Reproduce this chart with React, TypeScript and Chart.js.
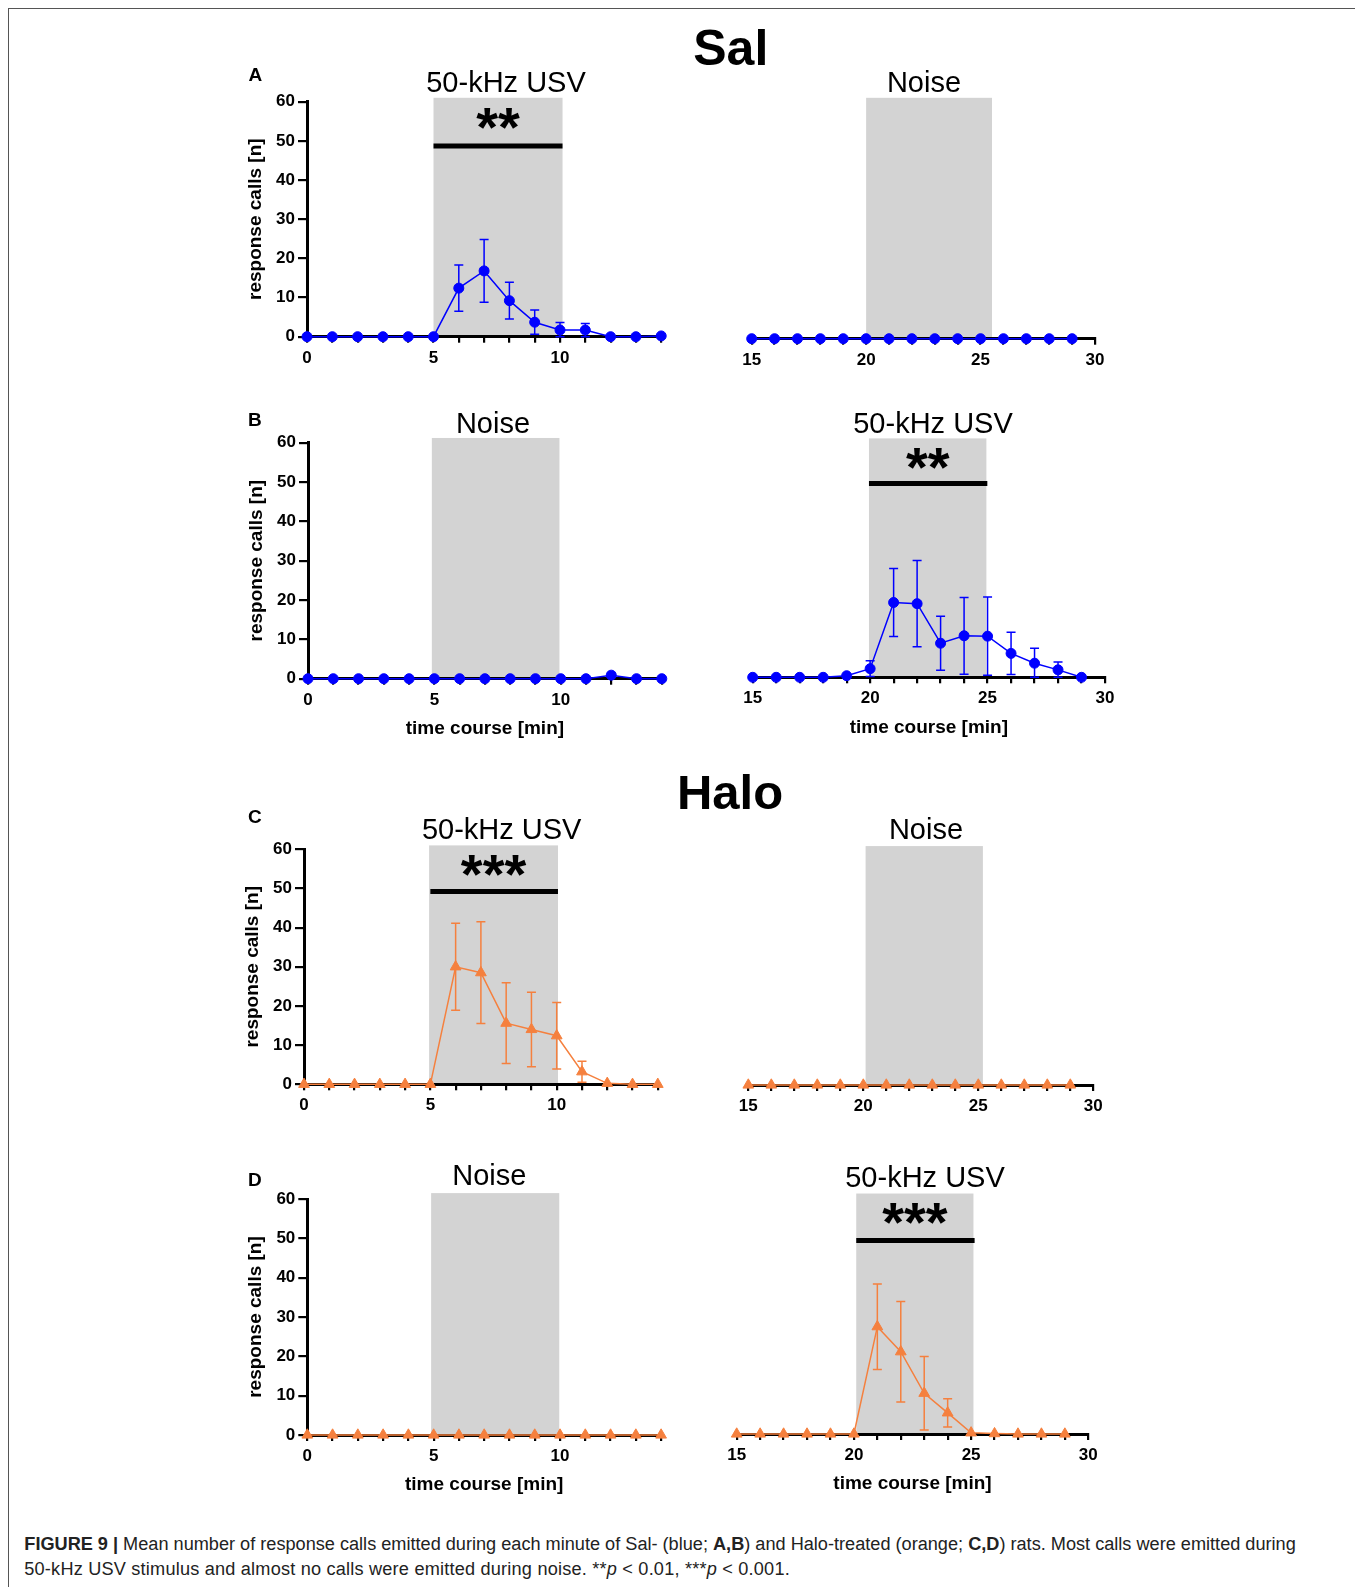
import React, { useEffect, useRef } from 'react';
import { Chart, registerables } from 'chart.js';

Chart.register(...registerables);

const FONT = '"Liberation Sans", Arial, Helvetica, sans-serif';
const BLUE = '#0000ff';
const ORANGE = '#f5803e';
const SHADE = '#d3d3d3';

// ---------- data ----------
const minutesFirst = [0, 1, 2, 3, 4, 5, 6, 7, 8, 9, 10, 11, 12, 13, 14];
const minutesSecond = [15, 16, 17, 18, 19, 20, 21, 22, 23, 24, 25, 26, 27, 28, 29];
const xTickLabelsFirst = [0, 5, 10];
const xTickLabelsSecond = [15, 20, 25, 30];
const yTicks = [0, 10, 20, 30, 40, 50, 60];

// Sal (A): 50-kHz USV first, noise second
const salA_usvMean = [0, 0, 0, 0, 0, 0, 12.4, 16.8, 9.2, 3.7, 1.7, 1.7, 0, 0, 0.2];
const salA_usvSem = [0, 0, 0, 0, 0, 0, 5.9, 8.0, 4.7, 3.1, 1.9, 1.7, 0, 0, 0];
const salA_noiseMean = [0, 0, 0, 0, 0, 0, 0, 0, 0, 0, 0, 0, 0, 0, 0];
const salA_noiseSem = [0, 0, 0, 0, 0, 0, 0, 0, 0, 0, 0, 0, 0, 0, 0];
// Sal (B): noise first, 50-kHz USV second
const salB_noiseMean = [0, 0, 0, 0, 0, 0, 0, 0, 0, 0, 0, 0, 0.9, 0, 0];
const salB_noiseSem = [0, 0, 0, 0, 0, 0, 0, 0, 0, 0, 0, 0, 0, 0, 0];
const salB_usvMean = [0, 0, 0, 0, 0.4, 2.2, 19.1, 18.8, 8.7, 10.6, 10.5, 6.1, 3.6, 1.9, 0];
const salB_usvSem = [0, 0, 0, 0, 0, 2.0, 8.7, 11.0, 6.9, 9.8, 10.0, 5.4, 3.8, 2.0, 0];
// Halo (C): 50-kHz USV first, noise second
const haloC_usvMean = [0, 0, 0, 0, 0, 0, 30.0, 28.5, 15.6, 14.0, 12.4, 3.2, 0.25, 0, 0];
const haloC_usvSem = [0, 0, 0, 0, 0, 0, 11.1, 13.0, 10.3, 9.5, 8.5, 2.7, 0, 0, 0];
const haloC_noiseMean = [0, 0, 0, 0, 0, 0, 0, 0, 0, 0, 0, 0, 0, 0, 0];
const haloC_noiseSem = [0, 0, 0, 0, 0, 0, 0, 0, 0, 0, 0, 0, 0, 0, 0];
// Halo (D): noise first, 50-kHz USV second
const haloD_noiseMean = [0, 0, 0, 0, 0, 0, 0, 0, 0, 0, 0, 0, 0, 0, 0];
const haloD_noiseSem = [0, 0, 0, 0, 0, 0, 0, 0, 0, 0, 0, 0, 0, 0, 0];
const haloD_usvMean = [0, 0, 0, 0, 0, 0, 27.4, 21.0, 10.4, 5.4, 0.3, 0.1, 0, 0, 0];
const haloD_usvSem = [0, 0, 0, 0, 0, 0, 10.9, 12.8, 9.4, 3.6, 0, 0, 0, 0, 0];

// ---------- panel layout ----------
type Area = { cl: number; ct: number; cr: number; cb: number };
type PanelSpec = {
  key: string;
  times: number[];
  mean: number[];
  sem: number[];
  color: string;
  pointStyle: 'circle' | 'triangle';
  xMin: number;
  xMax: number;
  xLabels: number[];
  showY: boolean;
  xTitle: boolean;
  shade: [number, number, number];
  sig?: { from: number; to: number; y: number; stars: string; starsY: number };
  area: Area;
};

const panels: PanelSpec[] = [
  {
    key: 'A1', times: minutesFirst, mean: salA_usvMean, sem: salA_usvSem, color: BLUE, pointStyle: 'circle',
    xMin: 0, xMax: 14, xLabels: xTickLabelsFirst, showY: true, xTitle: false,
    shade: [5, 10.1, 61], sig: { from: 5, to: 10.1, y: 48.7, stars: '**', starsY: 55.3 },
    area: { cl: 307, ct: 101.7, cr: 661.2, cb: 336.7 },
  },
  {
    key: 'A2', times: minutesSecond, mean: salA_noiseMean, sem: salA_noiseSem, color: BLUE, pointStyle: 'circle',
    xMin: 15, xMax: 30, xLabels: xTickLabelsSecond, showY: false, xTitle: false,
    shade: [20, 25.5, 61.5],
    area: { cl: 751.7, ct: 103.7, cr: 1095, cb: 338.7 },
  },
  {
    key: 'B1', times: minutesFirst, mean: salB_noiseMean, sem: salB_noiseSem, color: BLUE, pointStyle: 'circle',
    xMin: 0, xMax: 14, xLabels: xTickLabelsFirst, showY: true, xTitle: true,
    shade: [4.9, 9.95, 61.2],
    area: { cl: 308, ct: 442.7, cr: 661.8, cb: 678.7 },
  },
  {
    key: 'B2', times: minutesSecond, mean: salB_usvMean, sem: salB_usvSem, color: BLUE, pointStyle: 'circle',
    xMin: 15, xMax: 30, xLabels: xTickLabelsSecond, showY: false, xTitle: true,
    shade: [19.95, 24.95, 61], sig: { from: 19.95, to: 24.99, y: 49.5, stars: '**', starsY: 55.5 },
    area: { cl: 752.7, ct: 442.3, cr: 1105, cb: 677.3 },
  },
  {
    key: 'C1', times: minutesFirst, mean: haloC_usvMean, sem: haloC_usvSem, color: ORANGE, pointStyle: 'triangle',
    xMin: 0, xMax: 14, xLabels: xTickLabelsFirst, showY: true, xTitle: false,
    shade: [4.95, 10.05, 61], sig: { from: 5, to: 10.05, y: 49.2, stars: '***', starsY: 55.6 },
    area: { cl: 304, ct: 849.3, cr: 657.8, cb: 1084.3 },
  },
  {
    key: 'C2', times: minutesSecond, mean: haloC_noiseMean, sem: haloC_noiseSem, color: ORANGE, pointStyle: 'triangle',
    xMin: 15, xMax: 30, xLabels: xTickLabelsSecond, showY: false, xTitle: false,
    shade: [20.1, 25.2, 61],
    area: { cl: 748.3, ct: 850, cr: 1093.3, cb: 1085 },
  },
  {
    key: 'D1', times: minutesFirst, mean: haloD_noiseMean, sem: haloD_noiseSem, color: ORANGE, pointStyle: 'triangle',
    xMin: 0, xMax: 14, xLabels: xTickLabelsFirst, showY: true, xTitle: true,
    shade: [4.9, 9.97, 61.5],
    area: { cl: 307.3, ct: 1199, cr: 661.1, cb: 1435 },
  },
  {
    key: 'D2', times: minutesSecond, mean: haloD_usvMean, sem: haloD_usvSem, color: ORANGE, pointStyle: 'triangle',
    xMin: 15, xMax: 30, xLabels: xTickLabelsSecond, showY: false, xTitle: true,
    shade: [20.1, 25.1, 61.4], sig: { from: 20.1, to: 25.15, y: 49.4, stars: '***', starsY: 55.9 },
    area: { cl: 736.7, ct: 1199, cr: 1088.3, cb: 1434 },
  },
];

const Y_AXIS_W = 60.6;

function geometry(p: PanelSpec) {
  const yW = p.showY ? Y_AXIS_W : 0;
  const xH = p.xTitle ? 59.5 : 30;
  const lm = p.showY ? 2 : 18;
  const left = Math.floor(p.area.cl - yW - lm);
  const top = Math.floor(p.area.ct - 14);
  const width = Math.ceil(p.area.cr + 18 - left);
  const height = Math.ceil(p.area.cb + xH + 2 - top);
  const padding = {
    left: p.area.cl - yW - left,
    top: p.area.ct - top,
    right: left + width - p.area.cr,
    bottom: top + height - p.area.cb - xH,
  };
  return { yW, xH, left, top, width, height, padding };
}

function Panel({ spec }: { spec: PanelSpec }) {
  const ref = useRef<HTMLCanvasElement | null>(null);
  const g = geometry(spec);

  useEffect(() => {
    if (!ref.current) return;
    const p = spec;
    const decor = {
      id: 'decor' + p.key,
      beforeDraw(chart: any) {
        const { ctx } = chart;
        const x = chart.scales.x;
        const y = chart.scales.y;
        const x0 = x.getPixelForValue(p.shade[0]);
        const x1 = x.getPixelForValue(p.shade[1]);
        const yT = y.getPixelForValue(p.shade[2]);
        const yB = y.getPixelForValue(0);
        ctx.save();
        ctx.fillStyle = SHADE;
        ctx.fillRect(x0, yT, x1 - x0, yB - yT);
        ctx.restore();
      },
      beforeDatasetsDraw(chart: any) {
        const { ctx } = chart;
        const x = chart.scales.x;
        const y = chart.scales.y;
        ctx.save();
        ctx.strokeStyle = p.color;
        ctx.lineWidth = 1.5;
        p.times.forEach((t, i) => {
          const s = p.sem[i];
          if (!s) return;
          const m = p.mean[i];
          const xp = x.getPixelForValue(t);
          const yt = y.getPixelForValue(m + s);
          const yb = y.getPixelForValue(Math.max(0, m - s));
          ctx.beginPath();
          ctx.moveTo(xp, yt);
          ctx.lineTo(xp, yb);
          ctx.moveTo(xp - 4.5, yt);
          ctx.lineTo(xp + 4.5, yt);
          ctx.moveTo(xp - 4.5, yb);
          ctx.lineTo(xp + 4.5, yb);
          ctx.stroke();
        });
        ctx.restore();
      },
      afterDatasetsDraw(chart: any) {
        if (!p.sig) return;
        const { ctx } = chart;
        const x = chart.scales.x;
        const y = chart.scales.y;
        const sx0 = x.getPixelForValue(p.sig.from);
        const sx1 = x.getPixelForValue(p.sig.to);
        const sy = y.getPixelForValue(p.sig.y);
        ctx.save();
        ctx.strokeStyle = '#000';
        ctx.lineWidth = 5;
        ctx.lineCap = 'butt';
        ctx.beginPath();
        ctx.moveTo(sx0, sy);
        ctx.lineTo(sx1, sy);
        ctx.stroke();
        const fs = 56;
        ctx.font = `bold ${fs}px ${FONT}`;
        ctx.fillStyle = '#000';
        ctx.textAlign = 'center';
        ctx.textBaseline = 'alphabetic';
        const cx = (x.getPixelForValue(p.shade[0]) + x.getPixelForValue(p.shade[1])) / 2;
        ctx.fillText(p.sig.stars, cx, y.getPixelForValue(p.sig.starsY) + 0.47 * fs);
        ctx.restore();
      },
    };

    const tickFont = { family: FONT, size: 17, weight: 'bold' as const };
    const chart = new Chart(ref.current, {
      type: 'line',
      data: {
        datasets: [
          {
            data: p.times.map((t, i) => ({ x: t, y: p.mean[i] })),
            borderColor: p.color,
            backgroundColor: p.color,
            borderWidth: 1.5,
            pointStyle: p.pointStyle,
            pointRadius: p.pointStyle === 'triangle' ? 6.2 : 5,
            pointBorderWidth: 1,
            pointBackgroundColor: p.color,
            pointBorderColor: p.color,
            tension: 0,
            clip: false as any,
          },
        ],
      },
      options: {
        responsive: false,
        animation: false,
        events: [],
        layout: { padding: g.padding },
        plugins: { legend: { display: false }, tooltip: { enabled: false }, title: { display: false } },
        scales: {
          x: {
            type: 'linear',
            min: p.xMin,
            max: p.xMax,
            afterFit: (s: any) => {
              s.height = g.xH;
            },
            border: { display: true, color: '#000', width: 3 },
            grid: { display: true, drawOnChartArea: false, drawTicks: true, tickLength: 6, color: '#000', lineWidth: 2.2 },
            ticks: {
              stepSize: 1,
              autoSkip: false,
              maxRotation: 0,
              minRotation: 0,
              padding: 5,
              color: '#000',
              font: tickFont,
              callback: (v: any) => (p.xLabels.includes(Number(v)) ? String(v) : ''),
            },
            title: {
              display: p.xTitle,
              text: 'time course [min]',
              color: '#000',
              padding: 0,
              font: { family: FONT, size: 19, weight: 'bold', lineHeight: 1 },
            },
          },
          y: {
            type: 'linear',
            display: p.showY,
            min: 0,
            max: 60,
            afterFit: (s: any) => {
              s.width = g.yW;
            },
            border: { display: true, color: '#000', width: 3 },
            grid: { display: true, drawOnChartArea: false, drawTicks: true, tickLength: 9, color: '#000', lineWidth: 2.2 },
            afterBuildTicks: (s: any) => {
              s.ticks = yTicks.map((v) => ({ value: v }));
            },
            ticks: { padding: 3, color: '#000', font: tickFont },
            title: {
              display: true,
              text: 'response calls [n]',
              color: '#000',
              padding: 0,
              font: { family: FONT, size: 19, weight: 'bold', lineHeight: 1 },
            },
          },
        },
      },
      plugins: [decor],
    } as any);
    return () => chart.destroy();
  }, []);

  return (
    <canvas
      ref={ref}
      width={g.width}
      height={g.height}
      style={{ position: 'absolute', left: g.left, top: g.top, width: g.width, height: g.height, display: 'block' }}
    />
  );
}

// ---------- text overlay ----------
const ASC = 0.8465;
function Txt(props: {
  x: number;
  base: number;
  size: number;
  bold?: boolean;
  center?: boolean;
  color?: string;
  children: React.ReactNode;
}) {
  const { x, base, size, bold, center, color, children } = props;
  return (
    <div
      style={{
        position: 'absolute',
        left: x,
        top: base - ASC * size,
        fontFamily: FONT,
        fontSize: size,
        lineHeight: `${size}px`,
        fontWeight: bold ? 'bold' : 'normal',
        whiteSpace: 'nowrap',
        color: color || '#000',
        transform: center ? 'translateX(-50%)' : undefined,
      }}
    >
      {children}
    </div>
  );
}

const panelTitles: { text: string; x: number; base: number }[] = [
  { text: '50-kHz USV', x: 506, base: 92.7 },
  { text: 'Noise', x: 924, base: 92.7 },
  { text: 'Noise', x: 493, base: 434 },
  { text: '50-kHz USV', x: 933, base: 433.3 },
  { text: '50-kHz USV', x: 501.7, base: 840 },
  { text: 'Noise', x: 926, base: 840 },
  { text: 'Noise', x: 489.3, base: 1186 },
  { text: '50-kHz USV', x: 925, base: 1187.7 },
];

const panelLetters: { text: string; x: number; base: number }[] = [
  { text: 'A', x: 248.5, base: 81 },
  { text: 'B', x: 248, base: 426 },
  { text: 'C', x: 248, base: 823.5 },
  { text: 'D', x: 248, base: 1186 },
];

export default function App() {
  return (
    <div
      style={{
        position: 'absolute',
        left: 0,
        top: 0,
        width: 1355,
        height: 1587,
        background: '#fff',
        overflow: 'hidden',
      }}
    >
      <div
        style={{
          position: 'absolute',
          left: 8,
          top: 8,
          width: 1400,
          height: 1700,
          borderTop: '1px solid #555',
          borderLeft: '1px solid #555',
        }}
      />
      {panels.map((p) => (
        <Panel key={p.key} spec={p} />
      ))}
      <Txt x={730.8} base={65.7} size={50} bold center>
        Sal
      </Txt>
      <Txt x={730} base={809.3} size={49} bold center>
        Halo
      </Txt>
      {panelTitles.map((t, i) => (
        <Txt key={'t' + i} x={t.x} base={t.base} size={29} center>
          {t.text}
        </Txt>
      ))}
      {panelLetters.map((t) => (
        <Txt key={t.text} x={t.x} base={t.base} size={19} bold>
          {t.text}
        </Txt>
      ))}
      <Txt x={24.3} base={1550} size={18.15} color="#222">
        <b>FIGURE 9 |</b> Mean number of response calls emitted during each minute of Sal- (blue; <b>A,B</b>) and
        Halo-treated (orange; <b>C,D</b>) rats. Most calls were emitted during
      </Txt>
      <Txt x={24.3} base={1575.6} size={18.15} color="#222">
        <span style={{ letterSpacing: '0.2px' }}>
          50-kHz USV stimulus and almost no calls were emitted during noise. **<i>p</i> &lt; 0.01, ***<i>p</i> &lt; 0.001.
        </span>
      </Txt>
    </div>
  );
}
